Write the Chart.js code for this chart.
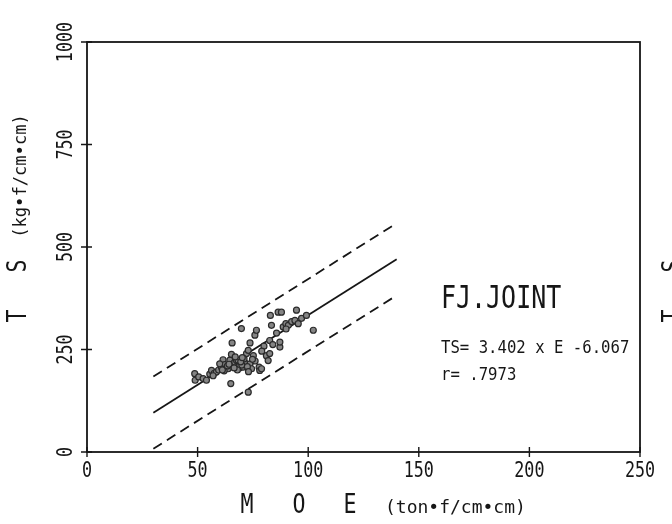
<!DOCTYPE html>
<html>
<head>
<meta charset="utf-8">
<script src="https://cdn.jsdelivr.net/npm/chart.js@4/dist/chart.umd.min.js"></script>
<style>
  html, body { margin: 0; padding: 0; background: #fff; }
  #wrap { width: 672px; height: 524px; }
</style>
</head>
<body>
<div id="wrap"><canvas id="c" width="672" height="524"></canvas></div>
<script>
// Modulus of elasticity (ton·f/cm²) of finger-jointed specimens
const moe = [48.7, 48.9, 50.5, 52.5, 54.0, 55.5, 56.3, 57.5, 58.5, 59.5,
             60.8, 61.5, 62.3, 63.0, 63.8, 64.6, 65.3, 65.6, 65.0, 66.0,
             66.8, 67.6, 68.3, 69.0, 69.1, 69.8, 70.6, 71.3, 72.1, 72.9,
             72.9, 73.7, 73.7, 74.4, 75.2, 75.9, 76.6, 77.8, 78.1, 78.9,
             80.0, 81.1, 81.9, 82.6, 82.6, 83.4, 82.9, 85.7, 86.4, 87.9,
             87.2, 87.2, 88.7, 89.9, 91.0, 92.5, 94.0, 94.7, 95.5, 97.0,
             99.2, 102.3, 60.0, 67.0, 71.0, 70.0, 62.0, 68.0, 76.0, 79.0,
             84.0, 90.0, 61.2, 63.5, 64.2, 66.5, 69.5, 70.2, 72.5, 74.8,
             57.0, 73.0];
// Tensile strength (kg·f/cm²) of the same specimens
const ts  = [191, 175, 183, 179, 175, 190, 199, 192, 195, 200,
             207, 225, 213, 205, 203, 224, 238, 266, 167, 215,
             219, 223, 224, 205, 211, 301, 207, 218, 240, 248,
             146, 215, 266, 203, 235, 285, 297, 207, 199, 203,
             258, 235, 223, 240, 272, 309, 333, 290, 341, 341,
             256, 268, 305, 313, 309, 318, 321, 346, 313, 326,
             333, 297, 215, 232, 227, 212, 198, 200, 222, 246,
             262, 300, 200, 210, 214, 205, 220, 230, 208, 226,
             186, 196];

// Regression TS = 3.402 x E - 6.067 and its band, drawn over E = 30..140
const slope = 3.402;
const intercept = -6.067;
const fitRange = [30, 140];
const upperBand = [184, 558];
const lowerBand = [8, 382];

const xTicks = [0, 50, 100, 150, 200, 250];
const yTicks = [0, 250, 500, 750, 1000];

const INK = '#161616';
const MONO = '"DejaVu Sans Mono", monospace';

function drawText(ctx, s, x, y, size, sx, rot, align) {
  ctx.save();
  ctx.translate(x, y);
  if (rot) ctx.rotate(rot);
  ctx.scale(sx, 1);
  ctx.font = size + 'px ' + MONO;
  ctx.fillStyle = INK;
  ctx.textAlign = align || 'center';
  ctx.textBaseline = 'middle';
  ctx.fillText(s, 0, 0);
  ctx.restore();
}

// y-axis title, rotated to read bottom-to-top
function drawYTitle(ctx, dx, unitShift) {
  const up = -Math.PI / 2;
  drawText(ctx, 'T', 19 + dx, 316, 27, 0.8, up);
  drawText(ctx, 'S', 19 + dx, 266, 27, 0.8, up);
  drawText(ctx, '(kg\u2022f/cm\u2022cm)', 21 + dx + unitShift, 176, 18, 0.95, up);
}

const framePlugin = {
  id: 'frame',
  beforeDatasetsDraw(chart) {
    const { ctx, chartArea: a, scales: { x, y } } = chart;
    ctx.save();
    ctx.strokeStyle = INK;
    ctx.lineWidth = 1.8;
    ctx.strokeRect(a.left, a.top, a.right - a.left, a.bottom - a.top);
    // cross-shaped tick marks on the bottom and left axes
    ctx.lineWidth = 1.4;
    ctx.beginPath();
    xTicks.forEach(v => {
      const px = x.getPixelForValue(v);
      ctx.moveTo(px, a.bottom - 5); ctx.lineTo(px, a.bottom + 5);
    });
    yTicks.forEach(v => {
      const py = y.getPixelForValue(v);
      ctx.moveTo(a.left - 6, py); ctx.lineTo(a.left + 5, py);
    });
    ctx.stroke();
    ctx.restore();
  },
  afterDraw(chart) {
    const { ctx, chartArea: a, scales: { x, y } } = chart;
    xTicks.forEach(v => {
      drawText(ctx, String(v), x.getPixelForValue(v), a.bottom + 19, 22, 0.76, 0);
    });
    yTicks.forEach(v => {
      drawText(ctx, String(v), a.left - 21, y.getPixelForValue(v), 22, 0.76, -Math.PI / 2);
    });
    // x-axis title
    drawText(ctx, 'M', 247, 506, 27, 0.8, 0);
    drawText(ctx, 'O', 299, 506, 27, 0.8, 0);
    drawText(ctx, 'E', 350, 506, 27, 0.8, 0);
    drawText(ctx, '(ton\u2022f/cm\u2022cm)', 385, 508, 18, 1.0, 0, 'left');
    drawYTitle(ctx, 0, 0);
    // title of the neighbouring panel, cut by the right edge
    drawYTitle(ctx, 655, 5);
    // panel label and regression statistics
    drawText(ctx, 'FJ.JOINT', 441, 300, 32, 0.78, 0, 'left');
    drawText(ctx, 'TS= 3.402 x E -6.067', 441, 349, 17, 0.92, 0, 'left');
    drawText(ctx, 'r= .7973', 441, 376, 17, 0.92, 0, 'left');
  }
};

const points = moe.map((v, i) => ({ x: v, y: ts[i] }));
const fitLine = fitRange.map(e => ({ x: e, y: slope * e + intercept }));
const upperLine = fitRange.map((e, i) => ({ x: e, y: upperBand[i] }));
const lowerLine = fitRange.map((e, i) => ({ x: e, y: lowerBand[i] }));

new Chart(document.getElementById('c'), {
  type: 'scatter',
  data: {
    datasets: [
      {
        label: 'specimens',
        data: points,
        pointRadius: 3,
        pointBorderWidth: 1.2,
        pointBackgroundColor: '#858585',
        pointBorderColor: '#2a2a2a'
      },
      {
        label: 'fit',
        data: fitLine,
        showLine: true,
        pointRadius: 0,
        borderColor: INK,
        borderWidth: 1.8
      },
      {
        label: 'upper',
        data: upperLine,
        showLine: true,
        pointRadius: 0,
        borderColor: INK,
        borderWidth: 1.8,
        borderDash: [10, 6]
      },
      {
        label: 'lower',
        data: lowerLine,
        showLine: true,
        pointRadius: 0,
        borderColor: INK,
        borderWidth: 1.8,
        borderDash: [10, 6]
      }
    ]
  },
  options: {
    responsive: false,
    animation: false,
    devicePixelRatio: 1,
    layout: { padding: { left: 87, right: 32, top: 42, bottom: 72 } },
    plugins: { legend: { display: false }, tooltip: { enabled: false } },
    scales: {
      x: { type: 'linear', min: 0, max: 250, display: false },
      y: { type: 'linear', min: 0, max: 1000, display: false }
    }
  },
  plugins: [framePlugin]
});
</script>
</body>
</html>
